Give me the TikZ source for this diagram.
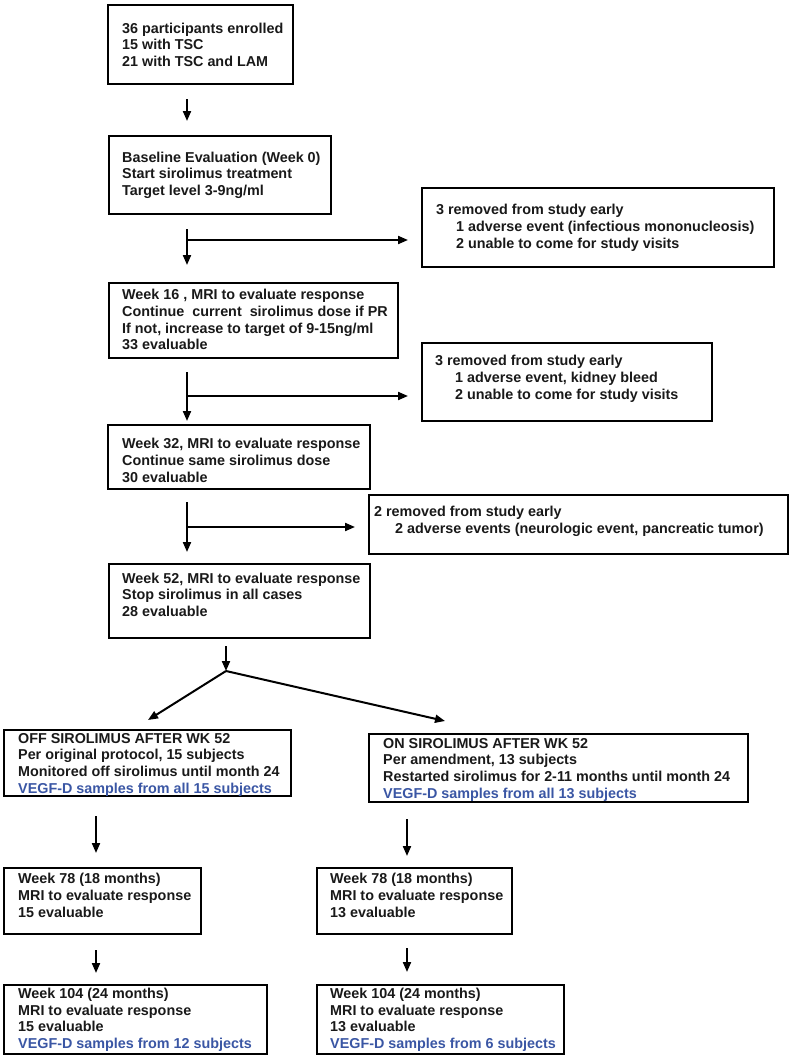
\documentclass[tikz,border=0pt]{standalone}
\usepackage{fontspec}
\setmainfont{Liberation Sans}
\usetikzlibrary{arrows.meta,calc}
\definecolor{vblue}{RGB}{58,86,164}
\definecolor{txt}{RGB}{25,25,25}
\newcommand\flowbox[8]{%
  \node[frame, minimum width=#4pt, minimum height=#5pt] (#1) at (#2,#3) {};
  \node[lbl] (#1t) at ([xshift=#6pt,yshift=#7pt]#1.west) {#8};
}
\newcommand\ind{\hspace*{20pt}}
\begin{document}
\begin{tikzpicture}[x=1pt,y=-1pt,
  frame/.style={draw=black, line width=2.4pt, anchor=north west, inner sep=0pt},
  lbl/.style={anchor=west, inner sep=0pt, align=left, text=txt, font=\bfseries\fontsize{14.35pt}{16.7pt}\selectfont},
  arr/.style={draw=black, line width=2pt, -{Triangle[length=10pt,width=8pt]}},
]
\useasboundingbox (0,0) rectangle (791,1058);

% main column
\flowbox{b1}{107}{4}{185}{79}{15}{0}{36 participants enrolled\\15 with TSC\\21 with TSC and LAM}
\flowbox{b2}{108}{135}{222}{78}{14}{0}{Baseline Evaluation (Week 0)\\Start sirolimus treatment\\Target level 3-9ng/ml}
\flowbox{b3}{108}{282}{289}{75}{14}{1}{Week 16 , MRI to evaluate response\\Continue\ \ current\ \ sirolimus dose if PR\\If not, increase to target of 9-15ng/ml\\33 evaluable}
\flowbox{b4}{107}{424}{262}{64}{15}{-3}{Week 32, MRI to evaluate response\\Continue same sirolimus dose\\30 evaluable}
\flowbox{b5}{108}{563}{261}{74}{14}{6.5}{Week 52, MRI to evaluate response\\Stop sirolimus in all cases\\28 evaluable}

% side boxes
\flowbox{s1}{421}{187}{352}{79}{15}{0}{3 removed from study early\\\ind 1 adverse event (infectious mononucleosis)\\\ind 2 unable to come for study visits}
\flowbox{s2}{421}{342}{290}{78}{14}{3.5}{3 removed from study early\\\ind 1 adverse event, kidney bleed\\\ind 2 unable to come for study visits}
\flowbox{s3}{368}{494}{419}{59}{6}{3.5}{2 removed from study early\\\hspace*{21pt}2 adverse events (neurologic event, pancreatic tumor)}

% two arms
\flowbox{off}{3}{729}{287}{66}{15}{-1.5}{OFF SIROLIMUS AFTER WK 52\\Per original protocol, 15 subjects\\Monitored off sirolimus until month 24\\{\color{vblue}VEGF-D samples from all 15 subjects}}
\flowbox{on}{368}{733}{379}{68}{15}{-1.5}{ON SIROLIMUS AFTER WK 52\\Per amendment, 13 subjects\\Restarted sirolimus for 2-11 months until month 24\\{\color{vblue}VEGF-D samples from all 13 subjects}}
\flowbox{wl}{3}{867}{197}{66}{15}{6}{Week 78 (18 months)\\MRI to evaluate response\\15 evaluable}
\flowbox{wr}{316}{867}{195}{66}{14}{6}{Week 78 (18 months)\\MRI to evaluate response\\13 evaluable}
\flowbox{vl}{3}{984}{263}{69}{15}{0}{Week 104 (24 months)\\MRI to evaluate response\\15 evaluable\\{\color{vblue}VEGF-D samples from 12 subjects}}
\flowbox{vr}{316}{984}{247}{69}{14}{0}{Week 104 (24 months)\\MRI to evaluate response\\13 evaluable\\{\color{vblue}VEGF-D samples from 6 subjects}}

% guide coordinates
\coordinate (spine) at (187,0);
\coordinate (mid) at (226,0);
\coordinate (lc) at (96,0);
\coordinate (rc) at (407,0);
\coordinate (br1) at (187,240);
\coordinate (br2) at (187,396);
\coordinate (br3) at (187,527);
\coordinate (split) at (226,671);
\coordinate (offtip) at (148,720);
\coordinate (ontip) at (445,721);

% main column arrows
\draw[arr, shorten <=14pt, shorten >=14pt] (spine |- b1.south) -- (spine |- b2.north);
\draw[arr, shorten <=14pt, shorten >=17pt] (spine |- b2.south) -- (spine |- b3.north);
\draw[arr, shorten <=13pt, shorten >=3pt] (spine |- b3.south) -- (spine |- b4.north);
\draw[arr, shorten <=12pt, shorten >=11pt] (spine |- b4.south) -- (spine |- b5.north);
\draw[arr, shorten >=13pt] (br1) -- (br1 -| s1.west);
\draw[arr, shorten >=13pt] (br2) -- (br2 -| s2.west);
\draw[arr, shorten >=13pt] (br3) -- (br3 -| s3.west);

% split
\draw[arr, shorten <=7pt] (mid |- b5.south) -- (split);
\draw[arr] (split) -- (offtip);
\draw[arr] (split) -- (ontip);

% arms
\draw[arr, shorten <=19pt, shorten >=14pt] (lc |- off.south) -- (lc |- wl.north);
\draw[arr, shorten <=16pt, shorten >=11pt] (rc |- on.south) -- (rc |- wr.north);
\draw[arr, shorten <=15pt, shorten >=11pt] (lc |- wl.south) -- (lc |- vl.north);
\draw[arr, shorten <=13pt, shorten >=12pt] (rc |- wr.south) -- (rc |- vr.north);
\end{tikzpicture}
\end{document}
